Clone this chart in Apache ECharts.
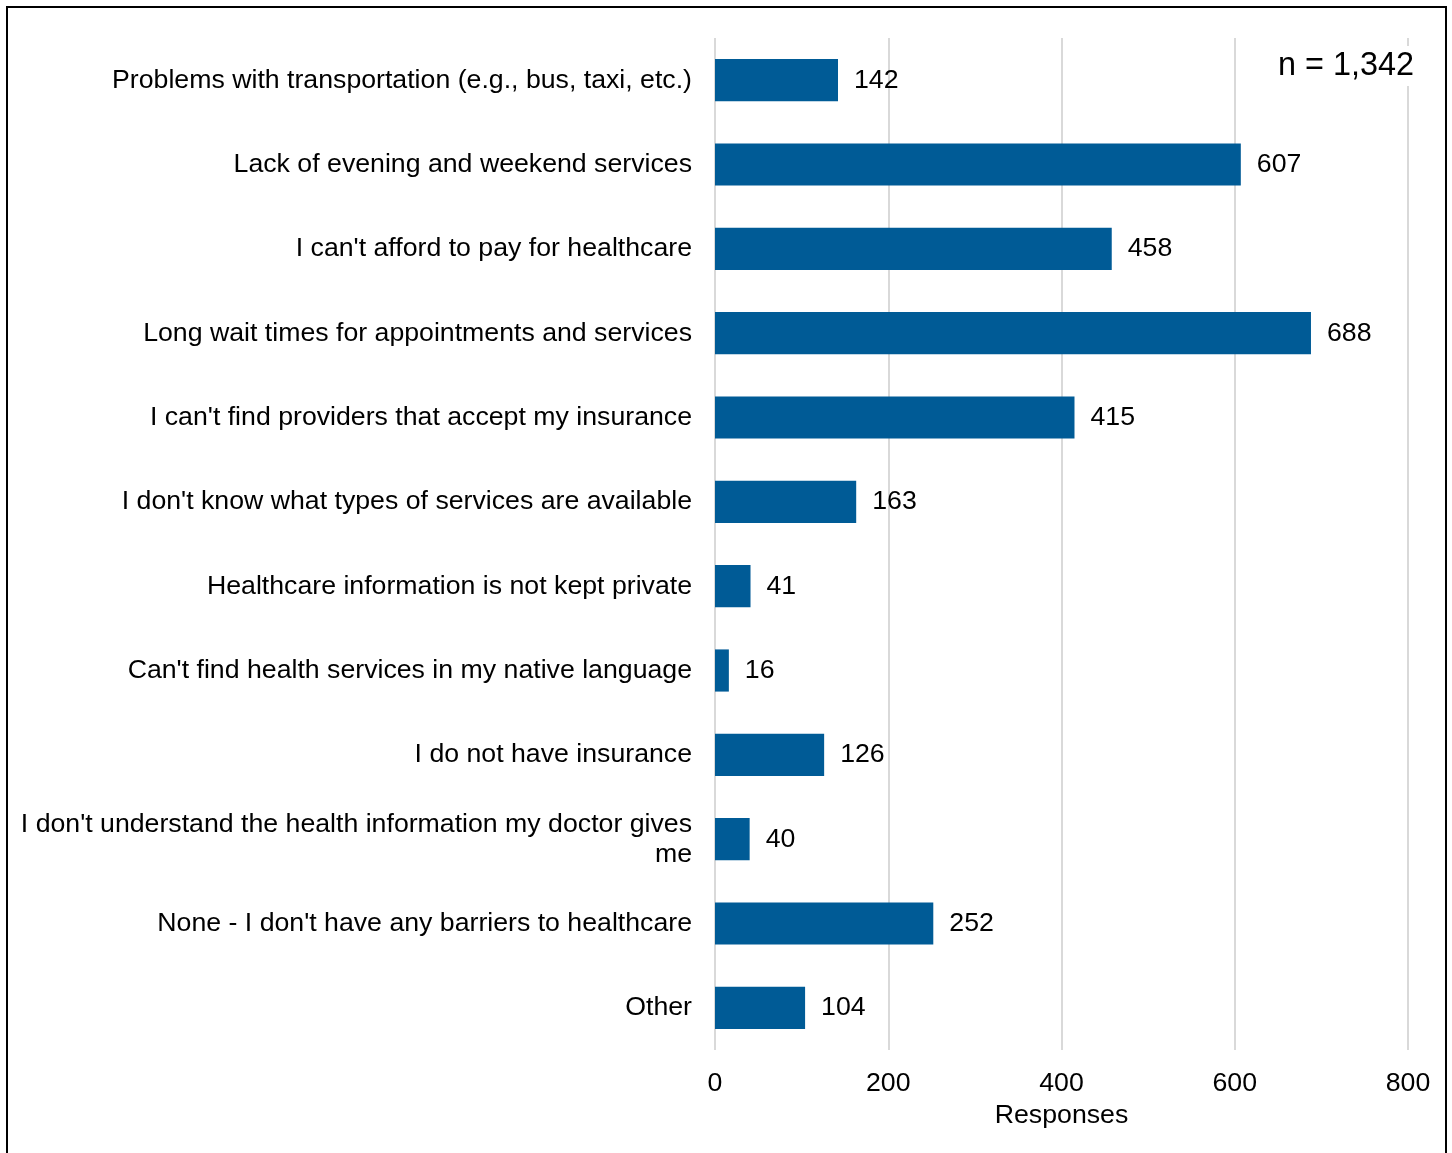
<!DOCTYPE html>
<html>
<head>
<meta charset="utf-8">
<script src="https://cdn.jsdelivr.net/npm/echarts@6/dist/echarts.min.js"></script>
<style>
  html, body { margin: 0; padding: 0; background: #fff; }
  #chart { width: 1452px; height: 1153px; }
</style>
</head>
<body>
<div id="chart"></div>
<script>
// Barriers to healthcare, listed top to bottom
const categories = [
  "Problems with transportation (e.g., bus, taxi, etc.)",
  "Lack of evening and weekend services",
  "I can't afford to pay for healthcare",
  "Long wait times for appointments and services",
  "I can't find providers that accept my insurance",
  "I don't know what types of services are available",
  "Healthcare information is not kept private",
  "Can't find health services in my native language",
  "I do not have insurance",
  "I don't understand the health information my doctor gives me",
  "None - I don't have any barriers to healthcare",
  "Other"
];
const responses = [142, 607, 458, 688, 415, 163, 41, 16, 126, 40, 252, 104];
const xTicks = [0, 200, 400, 600, 800];
const sampleNote = "n = 1,342";

const font = "Liberation Sans, Arial, sans-serif";
const labelSize = 26.7;
const labelMaxWidth = 690;

// Word-wrap long category names at spaces so no line exceeds the label width
const measureCtx = document.createElement('canvas').getContext('2d');
measureCtx.font = labelSize + 'px ' + font;
function wrapLabel(text) {
  const words = text.split(' ');
  const lines = [];
  let line = '';
  words.forEach(w => {
    const test = line ? line + ' ' + w : w;
    if (line && measureCtx.measureText(test).width > labelMaxWidth) {
      lines.push(line);
      line = w;
    } else {
      line = test;
    }
  });
  lines.push(line);
  return lines.join('\n');
}

const chart = echarts.init(document.getElementById('chart'), null, { renderer: 'canvas' });

chart.setOption({
  backgroundColor: '#ffffff',
  animation: false,
  grid: { left: 715, right: 44, top: 38, bottom: 103, containLabel: false },
  xAxis: {
    type: 'value',
    min: xTicks[0],
    max: xTicks[xTicks.length - 1],
    interval: 200,
    name: 'Responses',
    nameLocation: 'middle',
    nameGap: 52,
    nameTextStyle: { color: '#000', fontSize: labelSize, fontFamily: font },
    axisLine: { show: false },
    axisTick: { show: false },
    axisLabel: { color: '#000', fontSize: labelSize, fontFamily: font, margin: 20 },
    splitLine: { show: true, lineStyle: { color: '#d9d9d9', width: 2 } }
  },
  yAxis: {
    type: 'category',
    data: categories,
    inverse: true,
    axisLine: { show: false },
    axisTick: { show: false },
    axisLabel: {
      color: '#000', fontSize: labelSize, fontFamily: font, margin: 23,
      align: 'right', lineHeight: 30,
      formatter: wrapLabel
    },
    splitLine: { show: false }
  },
  series: [{
    type: 'bar',
    data: responses,
    barWidth: '50%',
    itemStyle: { color: '#005b96' },
    label: {
      show: true, position: 'right', distance: 16,
      color: '#000', fontSize: labelSize, fontFamily: font
    }
  }],
  graphic: [
    {
      type: 'rect', silent: true, z: 100,
      shape: { x: 7, y: 7, width: 1439, height: 1160 },
      style: { fill: 'none', stroke: '#000', lineWidth: 2 }
    },
    {
      type: 'text', z: 50, right: 38, top: 46,
      style: {
        text: sampleNote, fill: '#000', fontSize: 32.4, fontFamily: font,
        backgroundColor: '#fff', padding: [4, 0, 4, 4]
      }
    }
  ]
});
</script>
</body>
</html>
